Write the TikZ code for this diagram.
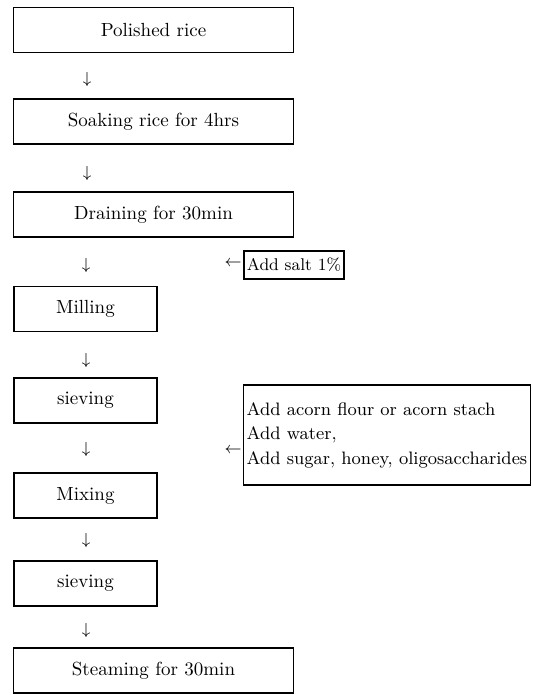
\documentclass[tikz,border=0pt]{standalone}
\usepackage{amsmath,amssymb}
\usepackage{tikz}

\begin{document}
\begin{tikzpicture}[x=0.5pt,y=-0.5pt,
		stepbox/.style={draw,line width=0.7pt,minimum height=22.5pt,inner sep=0pt,font=\fontsize{9.5}{12}\selectfont},
		widebox/.style={stepbox,minimum width=140pt},
		narrowbox/.style={stepbox,minimum width=71.5pt},
		addbox/.style={draw,line width=0.7pt,inner xsep=1.5pt,inner ysep=1pt,font=\fontsize{9}{12.25}\selectfont},
		arr/.style={inner sep=0pt,font=\fontsize{8.5}{9}\selectfont}]
			\useasboundingbox (0,0) rectangle (532,695);
			\node[widebox] (P) at (153.5,30) {Polished rice};
			\node[arr] (a1) at (87,80) {$\downarrow$};
			\node[widebox] (S) at (153.5,121.5) {Soaking rice for 4hrs};
			\node[arr] (a2) at (87,173) {$\downarrow$};
			\node[widebox] (D) at (153.5,214.5) {Draining for 30min};
			\node[arr] (a3) at (86,265) {$\downarrow$};
			\node[narrowbox] (M) at (85.5,309) {Milling};
			\node[arr] (a4) at (86,360) {$\downarrow$};
			\node[narrowbox] (V1) at (85.5,400.5) {sieving};
			\node[arr] (a5) at (86,449) {$\downarrow$};
			\node[narrowbox] (X) at (85.5,495.5) {Mixing};
			\node[arr] (a6) at (86,540) {$\downarrow$};
			\node[narrowbox] (V2) at (85.5,583.5) {sieving};
			\node[arr] (a7) at (86,630) {$\downarrow$};
			\node[widebox] (T) at (153.5,670.5) {Steaming for 30min};
			% additions
			\node[arr] (l1) at (233,263) {$\leftarrow$};
			\node[addbox,font=\fontsize{8.5}{10}\selectfont,minimum width=47.5pt,minimum height=14pt] (salt) at (294,265) {Add salt 1\%};
			\node[arr] (l2) at (233,450) {$\leftarrow$};
			\node[addbox,minimum width=141pt,minimum height=50pt,align=left] (acorn) at (387,435)
				{Add acorn flour or acorn stach\\ Add water,\\ Add sugar, honey, oligosaccharides};
		\end{tikzpicture}
\end{document}
